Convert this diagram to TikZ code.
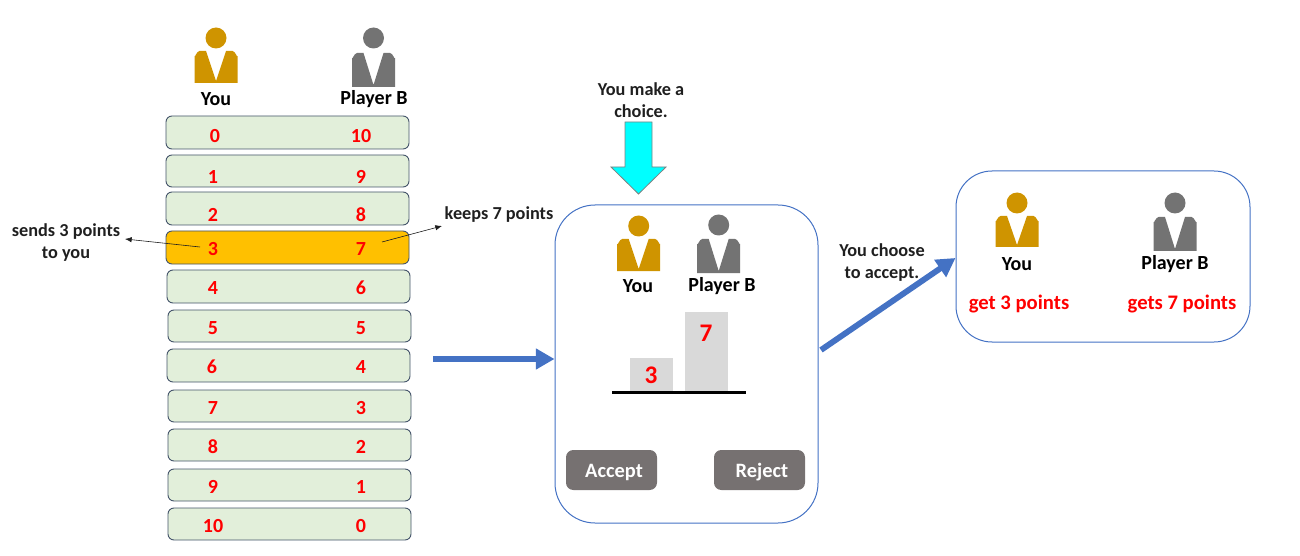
\documentclass[tikz,border=0pt]{standalone}
\usepackage{fontspec}
\setmainfont{Carlito}
\usetikzlibrary{arrows.meta}
\definecolor{gold}{HTML}{CF9400}
\definecolor{slategray}{HTML}{737373}
\definecolor{rowgreen}{HTML}{E2EFDA}
\definecolor{rowedge}{HTML}{44546A}
\definecolor{hilite}{HTML}{FFC000}
\definecolor{flow}{HTML}{4472C4}
\definecolor{btn}{HTML}{767171}
\definecolor{barfill}{HTML}{D9D9D9}
\definecolor{ink}{HTML}{1F1F1F}
\definecolor{aqua}{HTML}{00FFFF}
\definecolor{redtxt}{HTML}{FF0000}
\tikzset{
  x=0.75pt,y=-0.75pt,
  rowbox/.style={draw=rowedge,line width=0.7pt,rounded corners=4.5pt,inner sep=0pt},
  num/.style={text=redtxt,font=\fontsize{15}{16}\selectfont\bfseries,inner sep=0pt},
  lab/.style={text=black,font=\fontsize{15}{17}\selectfont\bfseries,inner sep=0pt,align=center},
  note/.style={text=ink,font=\fontsize{13.7}{16.5}\selectfont\bfseries,inner sep=0pt,align=center},
  result/.style={text=redtxt,font=\fontsize{15.5}{17}\selectfont\bfseries,inner sep=0pt},
  panel/.style={draw=flow,line width=0.75pt,inner sep=0pt},
  flowarrow/.style={draw=flow,line width=4.4pt,-{Triangle[length=14pt,width=15pt]}},
  thinarrow/.style={draw=ink,line width=0.45pt,-{Latex[length=5pt,width=4pt]}},
  btnbox/.style={fill=btn,rounded corners=5.5pt,inner sep=0pt},
  btntext/.style={text=white,font=\fontsize{15.3}{17}\selectfont\bfseries,inner sep=0pt},
}
% \person{cx}{headY}{bodyTop}{bodyBottom}{colour}
\newcommand{\person}[5]{%
  \fill[#5] (#1,#2) circle[radius=10.5];
  \fill[#5] (#1-21.5,#4) -- (#1-21.5,#3+5) to[out=-90,in=180] (#1-16.5,#3) -- (#1-10,#3)
     -- (#1,#4-2) -- (#1+10,#3) -- (#1+16.5,#3) to[out=0,in=-90] (#1+21.5,#3+5) -- (#1+21.5,#4) -- cycle;
}
\newcommand{\payoff}[9]{%
  \node[rowbox,fill=#6,minimum width={(#4-#2)*0.75pt},minimum height={(#5-#3)*0.75pt}] (#1) at ({(#2+#4)/2},{(#3+#5)/2}) {};
  \node[num] (#1l) at (#8,#9) {#7};
  \payoffb{#1}{#9}%
}
\newcommand{\payoffb}[2]{\node[num] (#1r) at (\rx,#2) {\rv};}
\newcommand{\rx}{361}
\newcommand{\rv}{}
\begin{document}
\begin{tikzpicture}
\useasboundingbox (0,0) rectangle (1300,556);
% top persons
\person{216}{38}{51}{83}{gold}
\person{373.5}{38}{53}{87}{slategray}
\node[lab] (youA) at (216,99) {You};
\node[lab] (playerA) at (374,99) {Player B};
% rows
\renewcommand{\rv}{10}\payoff{r0}{166}{116}{409}{149}{rowgreen}{0}{215}{136}
\renewcommand{\rv}{9}\payoff{r1}{166}{155}{409}{187}{rowgreen}{1}{213}{177}
\renewcommand{\rv}{8}\payoff{r2}{166}{192}{409}{225}{rowgreen}{2}{213}{215}
\renewcommand{\rv}{7}\payoff{r3}{166}{231}{409}{264}{hilite}{3}{213}{249}
\renewcommand{\rv}{6}\payoff{r4}{167}{270}{410}{303}{rowgreen}{4}{213}{288}
\renewcommand{\rv}{5}\payoff{r5}{168}{310}{411}{342}{rowgreen}{5}{213}{328}
\renewcommand{\rv}{4}\payoff{r6}{167}{349}{410}{382}{rowgreen}{6}{212}{367}
\renewcommand{\rv}{3}\payoff{r7}{168}{390}{411}{422}{rowgreen}{7}{213}{408}
\renewcommand{\rv}{2}\payoff{r8}{168}{429}{411}{461}{rowgreen}{8}{213}{447}
\renewcommand{\rv}{1}\payoff{r9}{168}{469}{411}{501}{rowgreen}{9}{213}{487}
\renewcommand{\rv}{0}\payoff{r10}{168}{508}{411}{540}{rowgreen}{10}{213}{526}
% side notes
\node[note] (sends) at (66,243) {sends 3 points\\to you};
\node[note] (keeps) at (499,215) {keeps 7 points};
\coordinate (sendsFrom) at (200,247);
\coordinate (sendsTo) at (125,239);
\coordinate (keepsFrom) at (382,242);
\coordinate (keepsTo) at (442,226);
\draw[thinarrow] (sendsFrom) -- (sendsTo);
\draw[thinarrow] (keepsFrom) -- (keepsTo);
% centre panel
\node[panel,rounded corners=30pt,minimum width={263*0.75pt},minimum height={318*0.75pt}] (choice) at (686.5,364) {};
\node[note] (make) at (641,100) {You make a\\choice.};
\draw[draw=gray,line width=0.6pt,fill=aqua] (625,122) -- (652,122) -- (652,167) -- (666,167) -- (638.5,194) -- (611,167) -- (625,167) -- cycle;
\person{638.7}{226}{239}{271}{gold}
\person{718.7}{225}{239}{273}{slategray}
\node[lab] (youB) at (638,286) {You};
\node[lab] (playerB) at (722,286) {Player B};
\fill[barfill] (630,358) rectangle (673,391);
\fill[barfill] (685,312) rectangle (728,391);
\draw[black,line width=2.5pt] (612,392.5) -- (745.5,392.5);
\node[num,font=\fontsize{19}{20}\selectfont\bfseries] (barA) at (651,375) {3};
\node[num,font=\fontsize{19}{20}\selectfont\bfseries] (barB) at (706,333.5) {7};
\node[btnbox,minimum width={91*0.75pt},minimum height={40*0.75pt}] (accept) at (611.5,470) {};
\node[btntext] (acceptT) at (614,472) {Accept};
\node[btnbox,minimum width={91*0.75pt},minimum height={40*0.75pt}] (reject) at (759.5,470) {};
\node[btntext] (rejectT) at (762,472) {Reject};
% right panel
\node[panel,rounded corners=27pt,minimum width={294*0.75pt},minimum height={171*0.75pt}] (outcome) at (1103,256.5) {};
\person{1017}{203}{216}{247}{gold}
\person{1175}{203}{217}{251}{slategray}
\node[lab] (youC) at (1017,264) {You};
\node[lab] (playerC) at (1175,264) {Player B};
\node[result] (getA) at (1019,304) {get 3 points};
\node[result] (getB) at (1182,304) {gets 7 points};
\node[note] (chose) at (882,263) {You choose\\to accept.};
% flow arrows
\coordinate (flowA) at (433,359);
\coordinate (flowB) at (821,350);
\draw[flowarrow] (flowA) -- (choice.west |- flowA);
\draw[flowarrow] (flowB) -- (outcome.west |- 0,258);
\end{tikzpicture}
\end{document}
